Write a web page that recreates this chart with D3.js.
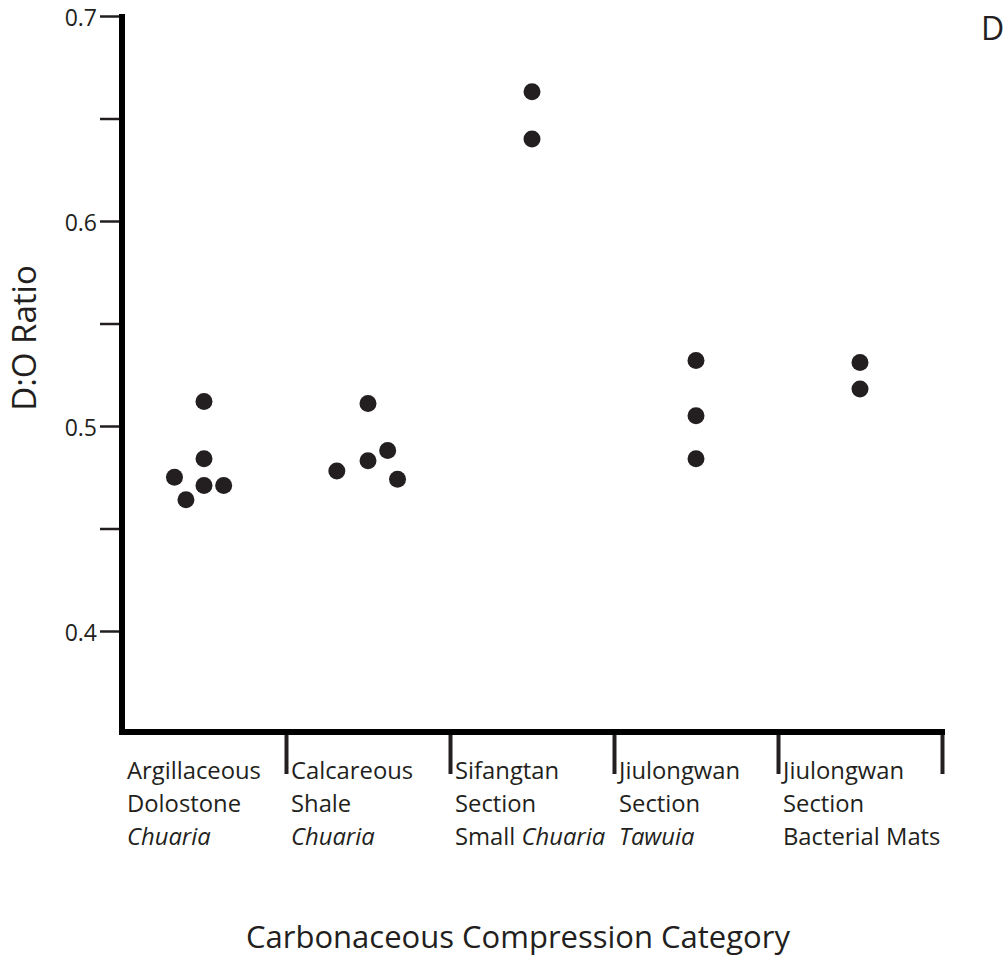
<!DOCTYPE html>
<html>
<head>
<meta charset="utf-8">
<script src="https://cdn.jsdelivr.net/npm/d3@7"></script>
<style>
  body { margin:0; background:#fff; }
  svg text { font-family:"Open Sans", sans-serif; fill:#231f20; }
  .tick line { stroke:#231f20; }
</style>
</head>
<body>
<div id="canvas"></div>
<script>
// categories, each with lines of text (italic parts flagged)
var categories = [
  [[['Argillaceous',0]], [['Dolostone',0]], [['Chuaria',1]]],
  [[['Calcareous',0]], [['Shale',0]], [['Chuaria',1]]],
  [[['Sifangtan',0]], [['Section',0]], [['Small ',0],['Chuaria',1]]],
  [[['Jiulongwan',0]], [['Section',0]], [['Tawuia',1]]],
  [[['Jiulongwan',0]], [['Section',0]], [['Bacterial Mats',0]]]
];

// x position in category units (category i sits in [i, i+1]), y = D:O ratio
var xPos = [0.50, 0.50, 0.32, 0.50, 0.62, 0.39,
            1.50, 1.62, 1.50, 1.31, 1.68,
            2.50, 2.50,
            3.50, 3.50, 3.50,
            4.50, 4.50];
var ratio = [0.512, 0.484, 0.475, 0.471, 0.471, 0.464,
             0.511, 0.488, 0.483, 0.478, 0.474,
             0.663, 0.640,
             0.532, 0.505, 0.484,
             0.531, 0.518];

var yTicks = [0.4, 0.45, 0.5, 0.55, 0.6, 0.65, 0.7];
var yLabels = {0.4:'0.4', 0.5:'0.5', 0.6:'0.6', 0.7:'0.7'};
var xTicks = [1, 2, 3, 4, 5];

var W = 1007, H = 956;
var margin = {t:16, l:122},
    width = 820,
    height = 717.5;

var svg = d3.select('#canvas')
    .append('svg')
    .attr('width', W)
    .attr('height', H);

var canvas = svg.append('g')
    .attr('transform','translate('+margin.l+','+margin.t+')');

var x = d3.scaleLinear().domain([0,5]).range([0,width]);
var y = d3.scaleLinear().domain([0.35,0.7]).range([height,0]);

// y axis ticks
var yAxis = d3.axisLeft(y)
    .tickValues(yTicks)
    .tickSize(22)
    .tickPadding(3)
    .tickFormat(function(d){ return yLabels[d] || ''; });
var gy = canvas.append('g').call(yAxis);
gy.select('.domain').remove();
gy.selectAll('.tick line').attr('stroke-width',2.5);
gy.selectAll('.tick text')
    .style('font-size','23px')
    .attr('dy','0.42em');

// x axis boundary ticks
var xAxis = d3.axisBottom(x)
    .tickValues(xTicks)
    .tickSize(42)
    .tickFormat('');
var gx = canvas.append('g')
    .attr('transform','translate(0,'+ (height-1.5) +')')
    .call(xAxis);
gx.select('.domain').remove();
gx.selectAll('.tick line').attr('stroke-width',4);

// thick spines
canvas.append('line')
    .attr('x1',0).attr('x2',0)
    .attr('y1',-2).attr('y2',height+1.5)
    .attr('stroke','#000').attr('stroke-width',6);
canvas.append('line')
    .attr('x1',-3).attr('x2',x(5)+3)
    .attr('y1',height-1.5).attr('y2',height-1.5)
    .attr('stroke','#000').attr('stroke-width',6);

// category labels
categories.forEach(function(lines,i){
    var t = canvas.append('text')
        .attr('x', x(i)+5)
        .attr('y', height+45)
        .style('font-size','23.8px');
    lines.forEach(function(parts,j){
        parts.forEach(function(p,k){
            var ts = t.append('tspan').text(p[0]);
            if(k==0) ts.attr('x', x(i)+5).attr('dy', j==0 ? 0 : 33);
            if(p[1]) ts.style('font-style','italic');
        });
    });
});

// points
xPos.forEach(function(d,i){
    canvas.append('circle')
        .attr('cx', x(d))
        .attr('cy', y(ratio[i]))
        .attr('r', 8.5)
        .style('fill','#231f20');
});

// axis titles
svg.append('text')
    .attr('transform','translate(36,338) rotate(-90)')
    .attr('text-anchor','middle')
    .style('font-size','33px')
    .text('D:O Ratio');

svg.append('text')
    .attr('x', 518)
    .attr('y', 948)
    .attr('text-anchor','middle')
    .style('font-size','31px')
    .text('Carbonaceous Compression Category');

svg.append('text')
    .attr('x', 981)
    .attr('y', 40)
    .style('font-size','32px')
    .text('D');
</script>
</body>
</html>
